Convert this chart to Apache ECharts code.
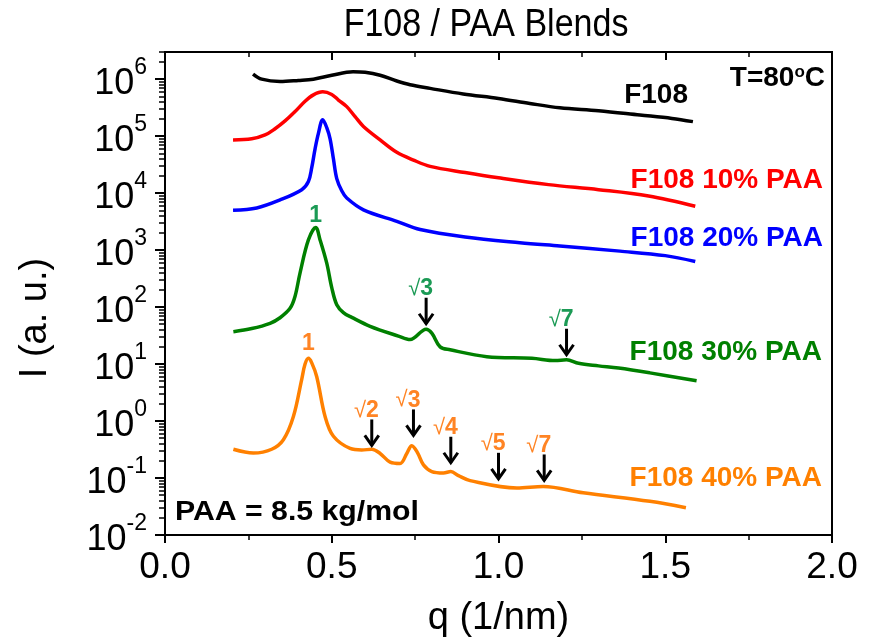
<!DOCTYPE html>
<html><head><meta charset="utf-8">
<script src="https://cdn.jsdelivr.net/npm/echarts@6/dist/echarts.min.js"></script>
<style>html,body{margin:0;padding:0;background:#fff}#c{width:871px;height:640px}</style>
</head><body><div id="c"></div>
<script>
// ---------- data ----------
const qF108 = [0.264,0.29,0.345,0.40,0.445,0.50,0.564,0.60,0.645,0.695,0.735,0.795,0.894,1.0,1.094,1.184,1.30,1.424,1.52,1.583];
const iF108 = [1.23e6,1.0e6,9.1e5,9.5e5,1.0e6,1.17e6,1.35e6,1.32e6,1.17e6,9.3e5,8.0e5,6.9e5,5.5e5,4.6e5,3.75e5,3.15e5,2.8e5,2.35e5,2.05e5,1.8e5];

const q10 = [0.204,0.26,0.30,0.33,0.36,0.39,0.42,0.445,0.473,0.50,0.52,0.545,0.57,0.595,0.645,0.695,0.745,0.795,0.9,1.0,1.15,1.3,1.45,1.59];
const i10 = [8.6e4,9.0e4,1.05e5,1.35e5,1.85e5,2.7e5,4.1e5,5.3e5,6.0e5,5.4e5,4.3e5,3.3e5,2.2e5,1.48e5,8.6e4,5.2e4,3.8e4,2.95e4,2.3e4,1.86e4,1.41e4,1.15e4,8.9e3,5.9e3];

const q20 = [0.204,0.275,0.345,0.41,0.43,0.44,0.45,0.46,0.473,0.485,0.495,0.505,0.515,0.53,0.545,0.595,0.695,0.765,0.9,1.064,1.184,1.364,1.5,1.59];
const i20 = [5.0e3,5.5e3,7.6e3,1.15e4,1.6e4,2.8e4,6.0e4,1.12e5,1.95e5,1.41e5,9.0e4,4.0e4,1.8e4,1.1e4,8.2e3,5.1e3,3.2e3,2.3e3,1.7e3,1.35e3,1.18e3,9.6e2,8.0e2,6.3e2];

const q30 = [0.205,0.26,0.315,0.345,0.375,0.39,0.405,0.43,0.452,0.465,0.485,0.50,0.515,0.535,0.56,0.615,0.70,0.735,0.783,0.80,0.825,0.855,0.965,1.10,1.17,1.204,1.24,1.30,1.36,1.454,1.594];
const i30 = [37,42,52,65,95,155,400,1510,2500,1510,590,220,110,80,66,46,31,27,41,35,20,17.8,13.5,12.6,11.5,11.9,10.3,9.3,8.5,7.0,5.1];

const q40 = [0.205,0.265,0.32,0.355,0.385,0.41,0.42,0.43,0.44,0.455,0.48,0.505,0.555,0.59,0.62,0.645,0.675,0.705,0.725,0.74,0.757,0.775,0.80,0.835,0.857,0.88,0.915,1.055,1.134,1.254,1.454,1.562];
const i40 = [0.32,0.275,0.32,0.47,1.2,5.4,10,12.6,10.5,6.0,1.2,0.54,0.33,0.31,0.32,0.27,0.19,0.18,0.27,0.37,0.28,0.17,0.13,0.123,0.13,0.11,0.09,0.067,0.071,0.055,0.039,0.030];

// peak markers (arrow tips)
const arrowQ30 = [0.783, 1.204];
const arrowI30 = [49, 14];
const arrowRoot30 = ['3', '7'];
const arrowQ40 = [0.62, 0.745, 0.857, 1.0, 1.137];
const arrowI40 = [0.358, 0.537, 0.178, 0.093, 0.087];
const arrowRoot40 = ['2', '3', '4', '5', '7'];
// first-order peak labels
const firstQ = [0.452, 0.43];
const firstI = [2500, 12.6];

// ticks
const xTickLabels = ['0.0', '0.5', '1.0', '1.5', '2.0'];
const yTickExponents = [-2, -1, 0, 1, 2, 3, 4, 5, 6];

// ---------- chart ----------
const FF = '"Liberation Sans", Arial, sans-serif';
const NARROW = '"Liberation Sans Narrow", "Liberation Sans", Arial, sans-serif';
const GREEN = '#008000', ORANGE = '#ff8000';
const GREEN_T = '#1b9a55', ORANGE_T = '#ff8424';

const yMajor = yTickExponents.map(e => Math.pow(10, e));
const yMinor = [];
yTickExponents.forEach(e => { for (let m = 2; m <= 9; m++) { const v = m * Math.pow(10, e); if (v <= 3e6) yMinor.push(v); } });

function pairs(q, i) { return q.map((x, k) => [x, i[k]]); }

function lineSeries(name, q, i, color) {
  return { name, type: 'line', data: pairs(q, i), showSymbol: false, smooth: 0.35,
    lineStyle: { color, width: 3.5 }, itemStyle: { color }, z: 3, animation: false };
}

function arrowSeries(q, i, roots, color) {
  return {
    type: 'custom', data: pairs(q, i), z: 5, animation: false,
    renderItem: (params, api) => {
      const p = api.coord([api.value(0), api.value(1)]);
      const x = p[0], y = p[1];
      return { type: 'group', children: [
        { type: 'line', shape: { x1: x, y1: y - 27, x2: x, y2: y - 1 }, style: { stroke: '#000', lineWidth: 3 } },
        { type: 'polyline', shape: { points: [[x - 7, y - 11], [x, y - 1], [x + 7, y - 11]] }, style: { stroke: '#000', lineWidth: 3, fill: null } },
        { type: 'text', x: x + 7, y: y - 36, style: {
            text: '{r|√}{d|' + roots[params.dataIndex] + '}', align: 'right', verticalAlign: 'middle',
            rich: { r: { fontFamily: FF, fontSize: 22, fill: color, fontWeight: 'normal' },
                    d: { fontFamily: NARROW, fontSize: 23, fill: color, fontWeight: 'bold' } } } }
      ] };
    }
  };
}

function firstSeries() {
  const cols = [GREEN_T, ORANGE_T];
  const offs = [12, 15];
  return {
    type: 'custom', data: pairs(firstQ, firstI), z: 5, animation: false,
    renderItem: (params, api) => {
      const p = api.coord([api.value(0), api.value(1)]);
      return { type: 'text', x: p[0], y: p[1] - offs[params.dataIndex], style: {
        text: '1', align: 'center', verticalAlign: 'middle', font: 'bold 23px ' + NARROW, fill: cols[params.dataIndex] } };
    }
  };
}

const chart = echarts.init(document.getElementById('c'), null, { renderer: 'canvas' });
chart.setOption({
  backgroundColor: '#fff',
  animation: false,
  grid: { left: 165, right: 39, top: 52, bottom: 105, containLabel: false, outerBoundsMode: 'none',
    show: true, borderColor: '#000', borderWidth: 2, backgroundColor: 'transparent' },
  xAxis: [
    { type: 'value', min: 0, max: 2, interval: 0.5, position: 'bottom',
      axisLine: { show: true, onZero: false, lineStyle: { color: '#000', width: 2 } },
      axisTick: { show: true, length: 8, lineStyle: { color: '#000', width: 2 } },
      minorTick: { show: true, splitNumber: 2, length: 5, lineStyle: { color: '#000', width: 1.5 } },
      axisLabel: { fontSize: 37, fontFamily: FF, color: '#000', margin: 33, verticalAlign: 'middle',
        formatter: v => xTickLabels[Math.round(v / 0.5)] },
      splitLine: { show: false },
      name: 'q (1/nm)', nameLocation: 'middle', nameGap: 84,
      nameTextStyle: { fontSize: 38, fontFamily: FF, color: '#000', verticalAlign: 'middle' } },
    { type: 'value', min: 0, max: 2, interval: 0.5, position: 'top',
      axisLine: { show: true, onZero: false, lineStyle: { color: '#000', width: 2 } },
      axisTick: { show: true, inside: true, length: 8, lineStyle: { color: '#000', width: 2 } },
      minorTick: { show: true, splitNumber: 2, length: 5, lineStyle: { color: '#000', width: 1.5 } },
      axisLabel: { show: false }, splitLine: { show: false } }
  ],
  yAxis: [
    { type: 'log', logBase: 10, min: 0.01, max: 3e6, position: 'left',
      axisLine: { show: true, onZero: false, lineStyle: { color: '#000', width: 2 } },
      axisTick: { show: true, length: 10, customValues: yMajor, lineStyle: { color: '#000', width: 2 } },
      axisLabel: { customValues: yMajor, margin: 18, color: '#000',
        formatter: v => '{b|10}{e|' + Math.round(Math.log10(v)) + '}',
        rich: { b: { fontSize: 36, fontFamily: FF, color: '#000', padding: [10, 0, 0, 0] },
                e: { fontSize: 23, fontFamily: FF, color: '#000', verticalAlign: 'top' } } },
      splitLine: { show: false }, minorTick: { show: false } },
    { type: 'log', logBase: 10, min: 0.01, max: 3e6, position: 'left',
      axisLine: { show: false },
      axisTick: { show: true, length: 6, customValues: yMinor, lineStyle: { color: '#000', width: 1.5 } },
      axisLabel: { show: false }, splitLine: { show: false } }
  ],
  graphic: [
    { type: 'text', x: 486, y: 25, scaleY: 1.15, style: { text: 'F108 / PAA Blends', font: '34px ' + FF, fill: '#000', align: 'center', verticalAlign: 'middle' } },
    { type: 'text', x: 36, y: 318, rotation: Math.PI / 2, style: { text: 'I (a. u.)', font: '38px ' + FF, fill: '#000', align: 'center', verticalAlign: 'middle' } },
    { type: 'text', x: 688, y: 95, style: { text: 'F108', font: 'bold 28px ' + FF, fill: '#000', align: 'right', verticalAlign: 'middle' } },
    { type: 'text', x: 825, y: 78, style: { text: '{n|T=80}{s|o}{n|C}', align: 'right', verticalAlign: 'middle',
        rich: { n: { font: 'bold 28px ' + FF, fill: '#000' }, s: { font: 'bold 17px ' + FF, fill: '#000', verticalAlign: 'top' } } } },
    { type: 'text', x: 823, y: 180, style: { text: 'F108 10% PAA', font: 'bold 28px ' + FF, fill: '#ff0000', align: 'right', verticalAlign: 'middle' } },
    { type: 'text', x: 823, y: 238, style: { text: 'F108 20% PAA', font: 'bold 28px ' + FF, fill: '#0000ff', align: 'right', verticalAlign: 'middle' } },
    { type: 'text', x: 822, y: 352, style: { text: 'F108 30% PAA', font: 'bold 28px ' + FF, fill: GREEN, align: 'right', verticalAlign: 'middle' } },
    { type: 'text', x: 822, y: 478, style: { text: 'F108 40% PAA', font: 'bold 28px ' + FF, fill: ORANGE, align: 'right', verticalAlign: 'middle' } },
    { type: 'text', x: 175, y: 513, scaleX: 1.12, style: { text: 'PAA = 8.5 kg/mol', font: 'bold 27px ' + FF, fill: '#000', align: 'left', verticalAlign: 'middle' } }
  ],
  series: [
    lineSeries('F108', qF108, iF108, '#000000'),
    lineSeries('F108 10% PAA', q10, i10, '#ff0000'),
    lineSeries('F108 20% PAA', q20, i20, '#0000ff'),
    lineSeries('F108 30% PAA', q30, i30, GREEN),
    lineSeries('F108 40% PAA', q40, i40, ORANGE),
    arrowSeries(arrowQ30, arrowI30, arrowRoot30, GREEN_T),
    arrowSeries(arrowQ40, arrowI40, arrowRoot40, ORANGE_T),
    firstSeries()
  ]
});
</script></body></html>
